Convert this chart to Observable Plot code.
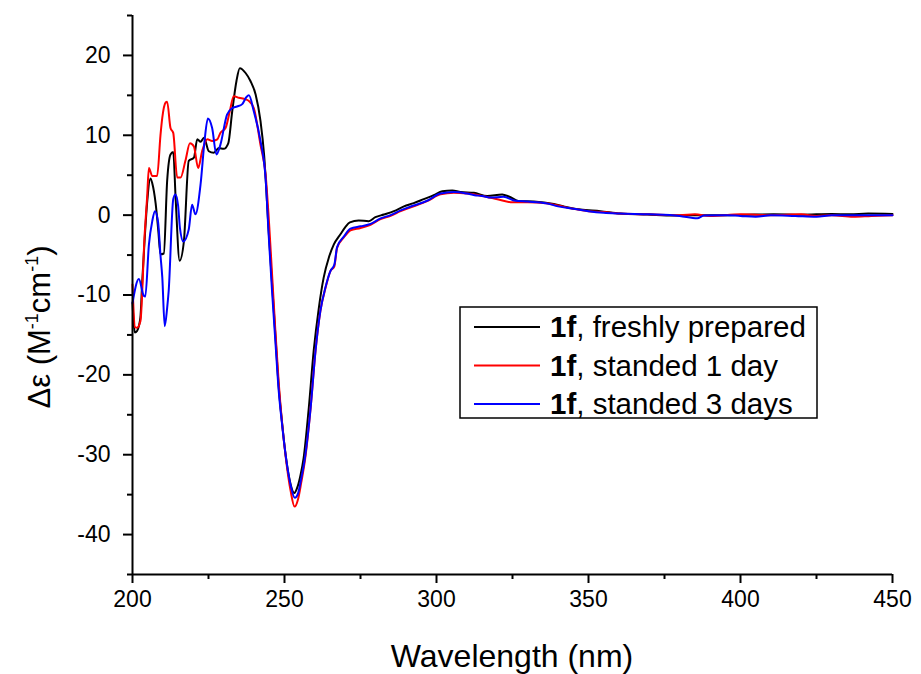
<!DOCTYPE html>
<html>
<head>
<meta charset="utf-8">
<script src="https://cdn.jsdelivr.net/npm/d3@7"></script>
<script src="https://cdn.jsdelivr.net/npm/@observablehq/plot@0.6"></script>
<style>
  html, body { margin: 0; padding: 0; background: #fff; }
  #chart { width: 921px; height: 674px; }
  svg text { font-family: "Liberation Sans", Arial, sans-serif; }
</style>
</head>
<body>
<div id="chart"></div>
<script>
// Wavelength (nm) and Δε values
const blackNm = [200, 200.8, 201.5, 202.6, 203.2, 204.1, 204.8, 205.9, 206.5, 207.6, 208.5, 209.2, 210.3, 211.4, 212.5, 213.4, 214.2, 215.5, 216.9, 218.5, 220.2, 221.3, 222.4, 223.5, 225.1, 226.7, 228.4, 230, 231.5, 232.8, 234.2, 235.3, 237.2, 238.8, 240.5, 242.1, 243.3, 244.8, 245.9, 247, 248.1, 249.2, 250.5, 252, 253.2, 254.3, 255.3, 256.3, 258, 259.6, 261.3, 262.9, 264.6, 266.2, 268.4, 270, 271.5, 274.4, 277.7, 279.9, 282.7, 286, 289.3, 292.5, 295.8, 299.1, 301.9, 305.2, 307.9, 312.3, 316.7, 321.6, 324, 327.1, 332, 338.6, 343, 347.4, 353.9, 360.5, 369.3, 378, 386.8, 394.4, 402, 410.9, 420, 430, 436, 442, 450];
const blackVal = [-11, -14.7, -14.5, -12.8, -8.3, -2.4, 1.5, 4.6, 4.0, 1.5, -2, -4.9, -4.8, 4.3, 7.6, 7.9, 2, -5.7, -3.3, 6.8, 7.2, 9.5, 9.2, 9.7, 8.0, 7.8, 8.4, 8.3, 9.0, 13.0, 16.8, 18.4, 17.8, 16.8, 15.1, 11.8, 7.5, -2, -8.5, -15, -21.5, -26, -30.4, -33.7, -34.8, -34, -32.5, -30.4, -24.1, -17, -11.6, -7.8, -5.3, -3.7, -2.4, -1.5, -0.9, -0.67, -0.75, -0.25, 0.08, 0.5, 1.1, 1.5, 2.0, 2.5, 3.0, 3.1, 2.9, 2.8, 2.4, 2.6, 2.3, 1.75, 1.7, 1.4, 1.0, 0.7, 0.5, 0.2, 0.08, -0.04, 0.0, 0.0, 0.05, 0.1, 0.05, 0.15, 0.1, 0.2, 0.15];

const redNm = [200, 200.8, 201.5, 202.6, 204, 204.8, 205.4, 206.5, 208.1, 209.2, 209.8, 210.9, 211.4, 212.5, 213.4, 214.7, 215.8, 217.4, 218.9, 220.2, 221.6, 222.9, 224.6, 226.2, 227.9, 228.9, 230.6, 232, 233.3, 235, 237.2, 238.3, 239.9, 242.1, 243.8, 245, 246, 247, 248.1, 249.2, 250.5, 252, 253.3, 254.5, 255.5, 256.8, 258.6, 260.2, 261.8, 263.5, 265.1, 266.4, 267.3, 269.5, 271.7, 275, 278.3, 281.6, 284.9, 288.2, 292.5, 296.9, 301.3, 305.7, 310, 315, 320, 325, 330, 336, 340, 345, 350, 355, 360, 370, 380, 385, 390, 400, 410, 420, 425, 430, 437, 443, 450];
const redVal = [-8.7, -14, -14.1, -13.3, -2.4, 2.2, 5.9, 4.9, 4.9, 10, 12.2, 14.1, 14.2, 10.9, 10.3, 4.7, 4.7, 6.8, 9.0, 8.6, 5.9, 8.0, 9.5, 9.3, 9.5, 10.3, 10.9, 13.0, 14.9, 14.7, 14.5, 14.3, 13.4, 8.8, 5.0, -1.5, -8, -14.5, -21, -26, -30.6, -34.5, -36.5, -35.5, -33.5, -30.5, -24.1, -17, -12, -9.1, -7, -6.4, -4.1, -2.8, -1.9, -1.6, -1.2, -0.5, -0.1, 0.5, 1.1, 1.75, 2.6, 2.8, 2.7, 2.4, 2.0, 1.6, 1.6, 1.5, 1.2, 0.8, 0.5, 0.4, 0.2, 0.1, 0.0, 0.1, -0.1, 0.1, 0.0, 0.1, -0.1, 0.0, -0.2, -0.1, 0.0];

const blueNm = [200, 202.1, 203.7, 204.2, 205.4, 206.5, 207.4, 208.4, 209.2, 209.8, 210.6, 211.4, 211.9, 213.4, 214.1, 215, 215.6, 216.7, 218.5, 219.6, 220.7, 222.4, 223.7, 224.8, 226.2, 227.6, 228.9, 231.1, 232.8, 234.4, 236.1, 237.5, 238.3, 239.9, 242.1, 243.8, 244.8, 245.9, 247, 248.1, 249.2, 250.5, 252, 253.4, 254.5, 255.5, 256.8, 258.6, 260.2, 261.8, 263.5, 265.1, 266.4, 267.3, 269.5, 271.7, 275, 278.3, 281.6, 284.9, 288.2, 292.5, 296.9, 301.3, 305.7, 310, 312.5, 315, 318, 322, 326, 330, 336, 340, 345, 350, 355, 360, 370, 380, 385.8, 388, 395, 400, 405, 410, 418, 425, 430, 440, 450];
const blueVal = [-11, -8.0, -10.1, -10.2, -3.7, -0.75, 0.5, -0.8, -5, -7.8, -13.9, -11.6, -9.5, 2.0, 2.6, 1.2, -1.6, -3.3, -1.8, 1.3, 0.1, 3.9, 9.3, 12.1, 10.9, 7.6, 8.8, 12.6, 13.4, 13.6, 13.9, 14.8, 15.0, 13.0, 9.3, 4.5, -2.5, -9.5, -15.8, -22, -26.2, -30.4, -33.8, -35.4, -34.8, -33, -30.2, -24.1, -17, -12, -9, -7, -6.2, -4.0, -2.7, -1.7, -1.4, -1.1, -0.4, 0.0, 0.6, 1.2, 1.8, 2.7, 2.9, 2.7, 2.5, 2.4, 2.2, 2.3, 1.8, 1.7, 1.5, 1.1, 0.8, 0.5, 0.3, 0.2, 0.1, -0.1, -0.4, -0.05, 0.0, -0.1, -0.2, 0.0, -0.1, -0.2, 0.0, 0.0, 0.0];

const seriesLabels = ["freshly prepared", "standed 1 day", "standed 3 days"];
const compound = "1f";
const seriesColors = ["#000000", "#ff0000", "#0000ff"];

const xMajor = [200, 250, 300, 350, 400, 450];
const xMinor = [225, 275, 325, 375, 425];
const yMajor = [20, 10, 0, -10, -20, -30, -40];
const yMinor = [25, 15, 5, -5, -15, -25, -35, -45];

const toRows = (nm, val) => nm.map((x, i) => ({x, y: val[i]}));
const rows = [toRows(blackNm, blackVal), toRows(redNm, redVal), toRows(blueNm, blueVal)];

const font = "Liberation Sans, Arial, sans-serif";

const plot = Plot.plot({
  width: 921,
  height: 674,
  marginLeft: 132,
  marginRight: 29,
  marginTop: 15,
  marginBottom: 100,
  style: {fontFamily: font, background: "#fff", color: "#000"},
  x: {domain: [200, 450], axis: null},
  y: {domain: [-45, 25], axis: null},
  marks: [
    ...rows.map((r, i) => Plot.line(r, {x: "x", y: "y", stroke: seriesColors[i], strokeWidth: 2, curve: "monotone-x"})),
    Plot.axisX({ticks: xMajor, tickSize: 9, tickPadding: 7, strokeWidth: 2, fontSize: 23, label: null, tickFormat: d => String(d)}),
    Plot.axisX({ticks: xMinor, tickSize: 5, strokeWidth: 2, label: null, tickFormat: () => ""}),
    Plot.axisY({ticks: yMajor, tickSize: 9, tickPadding: 13, strokeWidth: 2, fontSize: 23, label: null, tickFormat: d => String(d)}),
    Plot.axisY({ticks: yMinor, tickSize: 5, strokeWidth: 2, label: null, tickFormat: () => ""}),
    Plot.ruleY([-45], {strokeWidth: 2}),
    Plot.ruleX([200], {strokeWidth: 2})
  ]
});

document.getElementById("chart").appendChild(plot);

const svg = d3.select(plot);
// x title
svg.append("text")
  .attr("x", 512).attr("y", 667)
  .attr("text-anchor", "middle")
  .attr("font-size", 32)
  .attr("fill", "#000")
  .attr("font-family", font)
  .text("Wavelength (nm)");

// y title with superscripts
const yt = svg.append("text")
  .attr("transform", "translate(50,327) rotate(-90)")
  .attr("text-anchor", "middle")
  .attr("font-size", 31)
  .attr("fill", "#000")
  .attr("font-family", font);
yt.append("tspan").text("Δε (M");
yt.append("tspan").attr("font-size", 18).attr("dy", -12).text("-1");
yt.append("tspan").attr("dy", 12).text("cm");
yt.append("tspan").attr("font-size", 18).attr("dy", -12).text("-1");
yt.append("tspan").attr("dy", 12).text(")");

// legend
const lg = svg.append("g");
lg.append("rect").attr("x", 460).attr("y", 307).attr("width", 357).attr("height", 111)
  .attr("fill", "#fff").attr("stroke", "#000").attr("stroke-width", 1.5);
seriesLabels.forEach((lab, i) => {
  const cy = 327 + i * 38.5;
  lg.append("line").attr("x1", 474).attr("x2", 540).attr("y1", cy).attr("y2", cy)
    .attr("stroke", seriesColors[i]).attr("stroke-width", 2);
  const t = lg.append("text").attr("x", 550).attr("y", cy + 10)
    .attr("text-anchor", "start")
    .attr("font-size", 29.5).attr("fill", "#000").attr("font-family", font);
  t.append("tspan").attr("font-weight", "bold").text(compound);
  t.append("tspan").text(", " + lab);
});
</script>
</body>
</html>
